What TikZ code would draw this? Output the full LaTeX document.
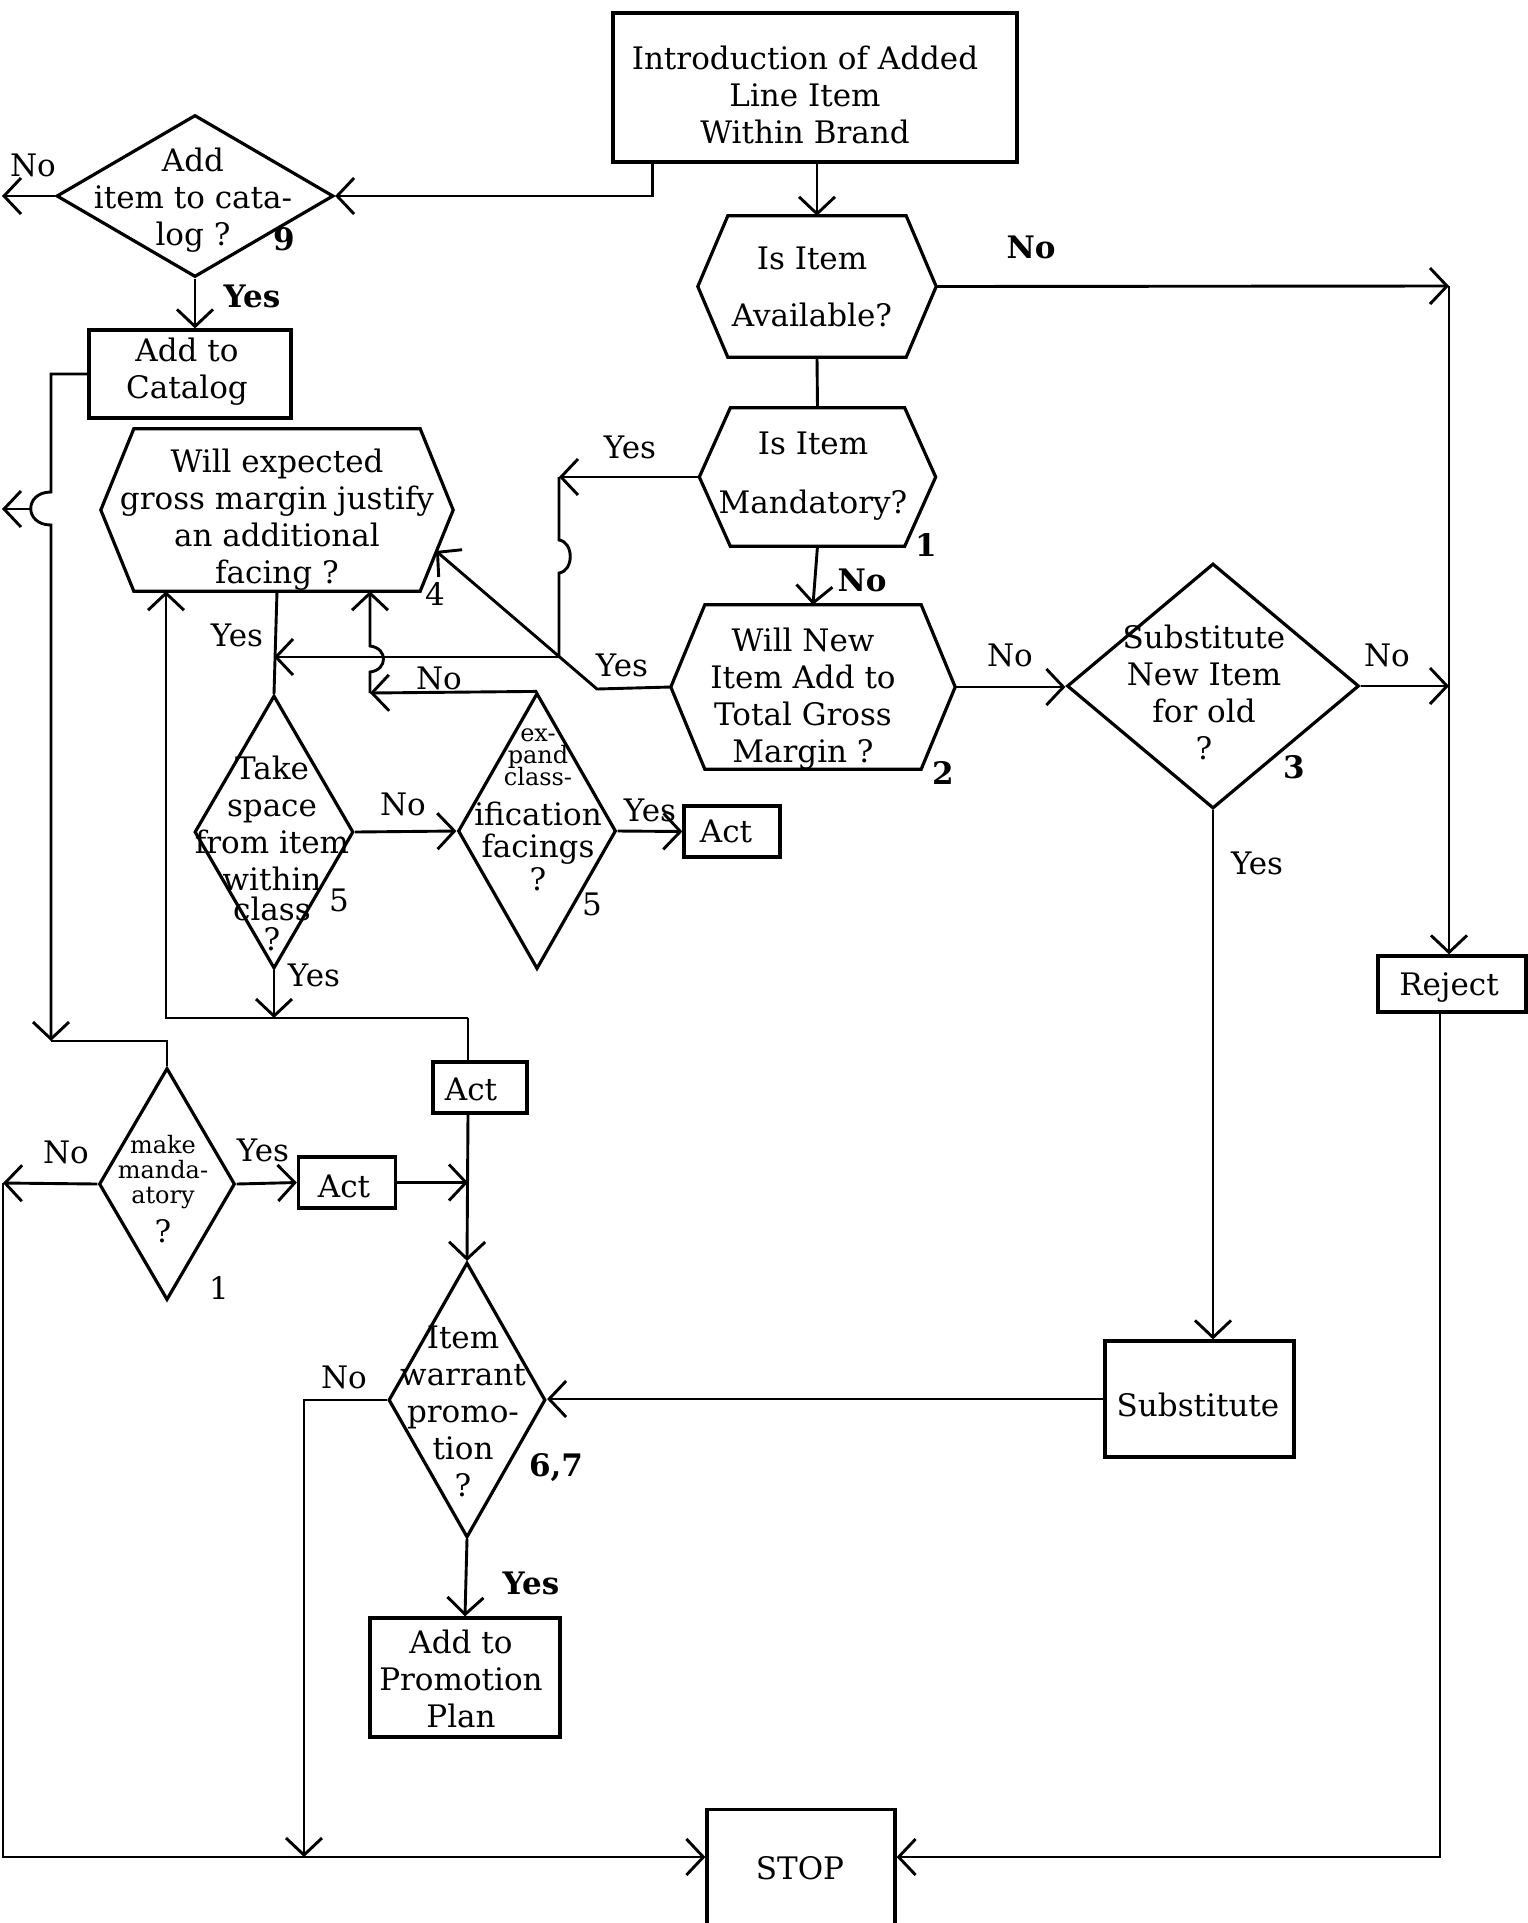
\documentclass[tikz,border=0pt]{standalone}
\usepackage{fontspec}
\setmainfont{DejaVu Serif}
\usetikzlibrary{arrows.meta,shapes.geometric,calc}

\tikzset{
  shp/.style={draw, line width=3.2pt, inner sep=0pt},
  box/.style={shp, rectangle},
  dia/.style={shp, diamond},
  hexframe/.style={draw=none, rectangle, inner sep=0pt},
  conn/.style={line width=2.9pt},
  arr/.style={conn, -{Straight Barb[length=17pt,width=36pt]}},
  txt/.style={font=\fontsize{31}{37}\selectfont, align=center, inner sep=0pt},
  lbl/.style={font=\fontsize{31}{37}\selectfont, inner sep=0pt},
  blbl/.style={lbl, font=\fontsize{31}{37}\selectfont\bfseries},
}

% type sizes for the crowded diamond texts
\newcommand{\crampfnt}{\fontsize{24}{24}\selectfont}
\newcommand{\normfnt}{\fontsize{31}{37}\selectfont}

% hexagonal decision: name, centre, full width, full height, corner inset
\newcommand{\hexshape}[5]{%
  \node[hexframe, minimum width=#3, minimum height=#4] (#1) at #2 {};
  \draw[line width=3.2pt, line join=miter] (#1.west) -- ([xshift=#5]#1.north west)
    -- ([xshift=-#5]#1.north east) -- (#1.east) -- ([xshift=-#5]#1.south east)
    -- ([xshift=#5]#1.south west) -- cycle;
}

\begin{document}
\begin{tikzpicture}[x=1pt, y=-1pt]
\useasboundingbox (0,0) rectangle (1528,1923);
\clip (0,0) rectangle (1528,1923);
\fill[white] (0,0) rectangle (1528,1923);

% ---------- process boxes ----------
\node[box, minimum width=404pt, minimum height=149pt] (intro) at (815,87.5) {};
\node[txt] (introtxt) at (805,95) {Introduction of Added\\Line Item\\Within Brand};

\node[box, minimum width=202pt, minimum height=88pt] (catalog) at (190,374) {};
\node[txt] (catalogtxt) at (187,372) {Add to\\Catalog};

\node[box, minimum width=96pt, minimum height=51pt] (act1) at (732,831.5) {};
\node[txt] (act1txt) at (726,831) {Act};
\node[box, minimum width=97pt, minimum height=51pt] (act2) at (347,1182.5) {};
\node[txt] (act2txt) at (344,1186) {Act};
\node[box, minimum width=94pt, minimum height=51pt] (act3) at (480,1087.5) {};
\node[txt] (act3txt) at (471,1089) {Act};

\node[box, minimum width=148pt, minimum height=56pt] (reject) at (1452,984) {};
\node[txt] (rejecttxt) at (1449,988) {Reject};

\node[box, minimum width=189pt, minimum height=116pt] (sub) at (1199.5,1399) {};
\node[txt] (subtxt) at (1198,1405) {Substitute};

\node[box, minimum width=190pt, minimum height=119pt] (promo) at (465,1677.5) {};
\node[txt] (promotxt) at (461,1679) {Add to\\Promotion\\Plan};

\node[box, minimum width=188pt, minimum height=240pt, anchor=north] (stop) at (801,1808) {};
\node[txt] (stoptxt) at (800,1868) {STOP};

% ---------- hexagonal decisions ----------
\hexshape{qA}{(817,286.5)}{238pt}{141pt}{30pt}
\node[txt, font=\fontsize{31}{57}\selectfont] (qAtxt) at (812,287) {Is Item\\Available?};

\hexshape{qM}{(817.5,477)}{236pt}{138pt}{31pt}
\node[txt, font=\fontsize{31}{59}\selectfont] (qMtxt) at (813,476) {Is Item\\Mandatory?};

\hexshape{qW}{(813,687)}{284pt}{164pt}{34pt}
\node[txt] (qWtxt) at (803,699) {Will New\\Item Add to\\Total Gross\\Margin ?};

\hexshape{q4}{(277,510)}{352pt}{162pt}{33pt}
\node[txt] (q4txt) at (277,520) {Will expected\\gross margin justify\\an additional\\facing ?};

% ---------- diamond decisions ----------
\node[dia, minimum width=277pt, minimum height=162pt] (q9) at (195,196) {};
\node[txt] (q9txt) at (193,200) {Add\\item to cata-\\log ?};

\node[dia, minimum width=159pt, minimum height=273pt] (qT) at (274,832) {};
\node[txt] (qTtxt) at (272,853) {Take\\space\\from item\\within\\[-7pt]class\\[-7pt]?};

\node[dia, minimum width=158pt, minimum height=276pt] (qE) at (537,831) {};
\node[txt] (qEtxt) at (538,810) {\crampfnt ex-\\[-15pt]\crampfnt pand\\[-15pt]\crampfnt class-\\[3pt]\normfnt ification\\[-5pt]\normfnt facings\\[-4pt]\normfnt ?};

\node[dia, minimum width=292pt, minimum height=245pt] (qS) at (1213,686) {};
\node[txt] (qStxt) at (1204,692) {Substitute\\New Item\\for old\\?};

\node[dia, minimum width=136pt, minimum height=232pt] (qm) at (167,1184) {};
\node[txt] (qmtxt) at (163,1189) {\crampfnt make\\[-12pt]\crampfnt manda-\\[-12pt]\crampfnt atory\\[2pt]\normfnt ?};

\node[dia, minimum width=157pt, minimum height=275pt] (qP) at (467,1400) {};
\node[txt] (qPtxt) at (463,1411) {Item\\warrant\\promo-\\tion\\?};

% ---------- junction points ----------
\coordinate (noq9) at (2,196);
\coordinate (jmpT) at (51,492);
\coordinate (jmpB) at (51,525);
\coordinate (jmpL) at (30,509);
\coordinate (noq4) at (2,509);
\coordinate (cL) at (51,1041);
\coordinate (cM) at (559,477);
\coordinate (jn) at (559,657);
\coordinate (cW) at (597,689);
\coordinate (q4in) at (436,551);
\coordinate (cE) at (370,693);
\coordinate (lpL) at (166,1018);
\coordinate (lpR) at (468,1018);
\coordinate (noqm) at (3,1183);
\coordinate (bl) at (3,1857);
\coordinate (cPb) at (304,1857);
\coordinate (cR) at (1449,286);

% ---------- connectors ----------
\draw[arr] ([xshift=41pt]intro.south west) |- (q9.east);
\draw[arr] (intro.south -| qA.north) -- (qA.north);
\draw[arr] (q9.west) -- (noq9);
\draw[arr] (q9.south) -- (q9.south |- catalog.north);

\draw[arr] (catalog.west) -| (jmpT) .. controls (24,492) and (24,525) .. (jmpB) -- (cL);
\draw[conn] (cL) -| (qm.north);
\draw[arr] (jmpL) -- (noq4);

\draw[conn] (q4.south) -- (qT.north);

\draw[arr] (qM.west) -- (cM);
\draw[conn] (cM) -- (559,540) .. controls (574,542) and (574,571) .. (559,573) -- (jn);
\draw[arr] (jn) -- (jn -| qT.north);

\draw[arr] (qW.west) -- (cW) -- (q4in);

\draw[arr] (qE.north) -- (cE);
\draw[arr] (cE) -- (370,672) .. controls (388,670) and (388,648) .. (370,646) -- (cE |- q4.south);

\draw[arr] (qT.east) -- (qE.west);
\draw[arr] (qE.east) -- (act1.west);

\draw[arr] (qT.south) -- (qT.south |- lpL);
\draw[arr] (lpR) -- (lpL) -- (lpL |- q4.south);
\draw[conn] (lpR) -- (lpR |- act3.north);
\draw[arr] (lpR |- act3.south) -- (qP.north);

\draw[arr] (qm.west) -- (noqm);
\draw[arr] (noqm) |- (stop.west |- bl);
\draw[arr] (qm.east) -- (act2.west);
\draw[arr] (act2.east) -- (act2.east -| lpR);

\draw[arr] (qP.west) -| (cPb);
\draw[arr] (qP.south) -- (promo.north);
\draw[arr] (sub.west) -- (sub.west -| qP.east);

\draw[arr] (qA.east) -- (cR);
\draw[arr] (cR) -- (cR |- reject.north);
\draw[arr] (qS.east) -- (qS.east -| cR);
\draw[arr] ([xshift=-12pt]reject.south) |- (stop.east |- bl);

\draw[conn] (qA.south) -- (qM.north);
\draw[arr] (qM.south) -- (qW.north);
\draw[arr] (qW.east) -- (qW.east -| qS.west);
\draw[arr] (qS.south) -- (qS.south |- sub.north);

% ---------- branch labels and reference numbers ----------
\node[lbl] (l1) at (33,165) {No};
\node[blbl] (l2) at (252,296) {Yes};
\node[blbl] (l3) at (284,239) {9};
\node[blbl] (l4) at (1031,247) {No};
\node[lbl] (l5) at (630,447) {Yes};
\node[blbl] (l6) at (926,545) {1};
\node[blbl] (l7) at (862,580) {No};
\node[lbl] (l8) at (435,594) {4};
\node[lbl] (l9) at (237,635) {Yes};
\node[lbl] (l10) at (622,665) {Yes};
\node[lbl] (l11) at (439,678) {No};
\node[lbl] (l12) at (1010,655) {No};
\node[lbl] (l13) at (1387,655) {No};
\node[blbl] (l14) at (943,773) {2};
\node[blbl] (l15) at (1294,767) {3};
\node[lbl] (l16) at (403,804) {No};
\node[lbl] (l17) at (650,810) {Yes};
\node[lbl] (l18) at (339,900) {5};
\node[lbl] (l19) at (592,904) {5};
\node[lbl] (l20) at (314,975) {Yes};
\node[lbl] (l21) at (1257,863) {Yes};
\node[lbl] (l22) at (66,1152) {No};
\node[lbl] (l23) at (263,1150) {Yes};
\node[lbl] (l24) at (219,1288) {1};
\node[lbl] (l25) at (344,1377) {No};
\node[blbl] (l26) at (556,1468) {6,7};
\node[blbl] (l27) at (531,1583) {Yes};
\end{tikzpicture}
\end{document}
